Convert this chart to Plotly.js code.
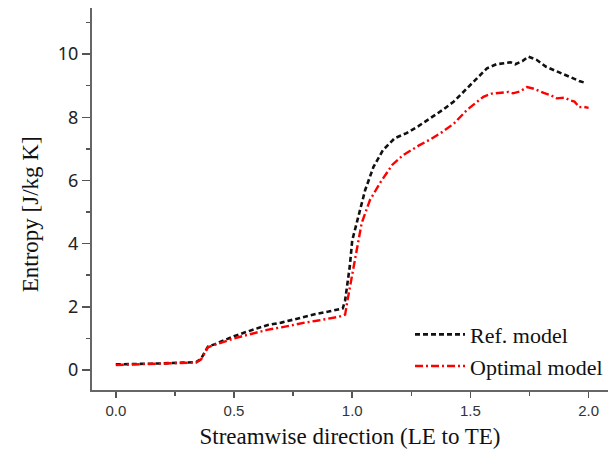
<!DOCTYPE html>
<html>
<head>
<meta charset="utf-8">
<script src="https://cdn.plot.ly/plotly-3.0.1.min.js"></script>
<style>html,body{margin:0;padding:0;background:#fff;}#chart{width:608px;height:457px;}</style>
</head>
<body>
<div id="chart"></div>
<script>
var refX = [0, 0.05, 0.1, 0.15, 0.2, 0.25, 0.3, 0.34, 0.36, 0.38, 0.39, 0.42, 0.45, 0.5, 0.55, 0.6, 0.64, 0.7, 0.75, 0.8, 0.85, 0.9, 0.94, 0.96, 0.97, 0.98, 0.99, 1.0, 1.025, 1.055, 1.09, 1.13, 1.18, 1.23, 1.28, 1.33, 1.38, 1.43, 1.47, 1.52, 1.57, 1.61, 1.64, 1.67, 1.69, 1.72, 1.745, 1.78, 1.82, 1.87, 1.92, 1.96, 1.99];
var refY = [0.18, 0.18, 0.2, 0.2, 0.21, 0.22, 0.23, 0.25, 0.35, 0.6, 0.74, 0.82, 0.92, 1.07, 1.2, 1.33, 1.42, 1.5, 1.6, 1.7, 1.78, 1.85, 1.92, 1.95, 2.2, 2.7, 3.3, 4.1, 4.85, 5.7, 6.43, 6.96, 7.34, 7.5, 7.72, 7.97, 8.22, 8.5, 8.8, 9.2, 9.55, 9.68, 9.72, 9.74, 9.68, 9.78, 9.92, 9.82, 9.6, 9.45, 9.28, 9.15, 9.08];
var optX = [0, 0.05, 0.1, 0.15, 0.2, 0.25, 0.3, 0.34, 0.36, 0.38, 0.39, 0.42, 0.45, 0.5, 0.55, 0.6, 0.64, 0.7, 0.75, 0.8, 0.85, 0.9, 0.94, 0.96, 0.97, 0.98, 0.99, 1.0, 1.02, 1.04, 1.075, 1.12, 1.17, 1.215, 1.285, 1.33, 1.38, 1.43, 1.485, 1.52, 1.555, 1.59, 1.625, 1.66, 1.68, 1.71, 1.74, 1.77, 1.81, 1.84, 1.865, 1.9, 1.92, 1.94, 1.96, 1.98, 2.0];
var optY = [0.16, 0.17, 0.18, 0.19, 0.2, 0.21, 0.22, 0.24, 0.33, 0.58, 0.72, 0.8, 0.88, 1.0, 1.1, 1.2, 1.27, 1.35, 1.43, 1.5, 1.56, 1.62, 1.68, 1.72, 1.75, 2.2, 2.6, 3.06, 3.9, 4.65, 5.38, 5.95, 6.5, 6.8, 7.12, 7.3, 7.53, 7.8, 8.23, 8.45, 8.65, 8.75, 8.78, 8.8, 8.76, 8.82, 8.96, 8.9, 8.77, 8.7, 8.6, 8.62, 8.54, 8.5, 8.32, 8.33, 8.3];
var seriesNames = ["Ref. model", "Optimal model"];
var xTickVals = [0, 0.5, 1.0, 1.5, 2.0];
var xTickText = ["0.0", "0.5", "1.0", "1.5", "2.0"];
var yTickVals = [0, 2, 4, 6, 8, 10];
var xTitle = "Streamwise direction (LE to TE)";
var yTitle = "Entropy [J/kg K]";

var serif = "Liberation Serif, Times New Roman, serif";

var traces = [
  {x: refX, y: refY, name: seriesNames[0], mode: "lines",
   line: {color: "#111111", width: 2.6, dash: "5px,3px"}},
  {x: optX, y: optY, name: seriesNames[1], mode: "lines",
   line: {color: "#ff0000", width: 2.4, dash: "8px,3px,2px,3px"}}
];

var layout = {
  width: 608, height: 457,
  margin: {l: 92, r: 0, t: 8, b: 67},
  paper_bgcolor: "#ffffff", plot_bgcolor: "#ffffff",
  showlegend: true,
  legend: {x: 1, y: 0.2, xanchor: "right", yanchor: "top",
           font: {family: serif, size: 22, color: "#111"},
           bgcolor: "rgba(0,0,0,0)", itemwidth: 50, tracegroupgap: 0},
  xaxis: {
    range: [-0.1007, 2.082], showgrid: false, zeroline: false,
    showline: true, linecolor: "#666", linewidth: 2,
    ticks: "outside", ticklen: 6, tickwidth: 1.5, tickcolor: "#555",
    tickvals: xTickVals, ticktext: xTickText,
    tickfont: {family: "Liberation Sans, Arial, sans-serif", size: 15, color: "#333"},
    minor: {dtick: 0.25, tick0: 0, ticks: "outside", ticklen: 4, tickwidth: 1.5, tickcolor: "#555"},
    title: {text: xTitle, standoff: 10, font: {family: serif, size: 23, color: "#111"}}
  },
  yaxis: {
    range: [-0.633, 11.46], showgrid: false, zeroline: false,
    showline: true, linecolor: "#666", linewidth: 2,
    ticks: "outside", ticklen: 8, tickwidth: 1.5, tickcolor: "#555",
    tickvals: yTickVals,
    tickfont: {family: "Noto Sans, sans-serif", size: 18, color: "#222"},
    minor: {dtick: 1, tick0: 0, ticks: "outside", ticklen: 4, tickwidth: 1.5, tickcolor: "#555"}
  },
  annotations: [
    {text: yTitle, textangle: -90, xref: "paper", yref: "paper",
     x: 0, y: 0.46, xanchor: "center", yanchor: "middle", xshift: -62,
     showarrow: false, font: {family: serif, size: 23, color: "#111"}}
  ]
};

Plotly.newPlot("chart", traces, layout, {staticPlot: true, displayModeBar: false});
</script>
</body>
</html>
